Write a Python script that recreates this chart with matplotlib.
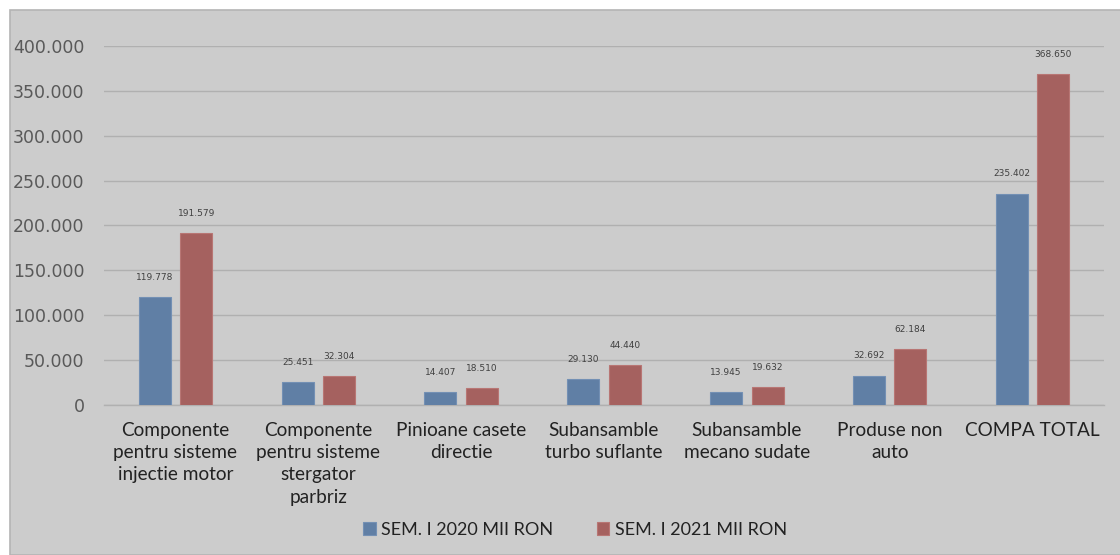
import numpy as np
import matplotlib.pyplot as plt
from matplotlib.patches import Rectangle
from matplotlib.ticker import FuncFormatter

categories = [
    "Componente\npentru sisteme\ninjectie motor",
    "Componente\npentru sisteme\nstergator\nparbriz",
    "Pinioane casete\ndirectie",
    "Subansamble\nturbo suflante",
    "Subansamble\nmecano sudate",
    "Produse non\nauto",
    "COMPA TOTAL",
]
sem_2020 = [119778, 25451, 14407, 29130, 13945, 32692, 235402]
sem_2021 = [191579, 32304, 18510, 44440, 19632, 62184, 368650]
series_names = ["SEM. I 2020 MII RON", "SEM. I 2021 MII RON"]
y_ticks = [0, 50000, 100000, 150000, 200000, 250000, 300000, 350000, 400000]

bg = "#cccccc"
blue = "#607fa5"
red = "#a5615f"

fig = plt.figure(figsize=(11.2, 5.55), dpi=100)
fig.patch.set_facecolor("white")
# chart area frame, kept behind the axes
frame = Rectangle((10 / 1120, 0), 1.0, 1 - 10 / 555, transform=fig.transFigure,
                  facecolor=bg, edgecolor="#b4b4b4", linewidth=1.2, zorder=-10)
fig.add_artist(frame)

ax = fig.add_axes([104 / 1120, 1 - 405 / 555, 1000 / 1120, 359 / 555])
ax.set_facecolor(bg)

x = np.arange(len(categories))
w = 0.224
off = 0.145
b1 = ax.bar(x - off, sem_2020, w, color=blue, edgecolor="#7390b4", linewidth=0.8,
            label=series_names[0], zorder=3)
b2 = ax.bar(x + off, sem_2021, w, color=red, edgecolor="#b87674", linewidth=0.8,
            label=series_names[1], zorder=3)

fmt = lambda v: "{:,.0f}".format(v).replace(",", ".")
for bars, vals in [(b1, sem_2020), (b2, sem_2021)]:
    for rect, v in zip(bars, vals):
        ax.annotate(fmt(v), (rect.get_x() + rect.get_width() / 2, v), xytext=(0, 11),
                    textcoords="offset points", ha="center", va="bottom",
                    fontsize=6.5, color="#404040", family="DejaVu Sans", clip_on=False)

ax.set_xlim(-0.5, len(categories) - 0.5)
ax.set_ylim(0, 400000)
ax.set_yticks(y_ticks)
ax.yaxis.set_major_formatter(FuncFormatter(lambda v, p: fmt(v)))
ax.grid(axis="y", color="#b0b0b0", linewidth=1.0, zorder=0)
for s in ["top", "right", "left"]:
    ax.spines[s].set_visible(False)
ax.spines["bottom"].set_color("#b0b0b0")
ax.spines["bottom"].set_linewidth(1.0)

ax.tick_params(axis="y", length=0, pad=14, labelsize=12.5, labelcolor="#595959")
ax.tick_params(axis="x", length=0, pad=12)
ax.set_xticks(x)
ax.set_xticklabels(categories, fontsize=13.7, color="#222222", family="Lato", linespacing=1.38)
for lbl in ax.get_yticklabels():
    lbl.set_family("DejaVu Sans")

leg = fig.legend(handles=[b1, b2], labels=series_names, loc="center",
                 bbox_to_anchor=(575 / 1120, 1 - 530 / 555), ncol=2, frameon=False,
                 handlelength=0.7, handleheight=0.7, handletextpad=0.3,
                 columnspacing=2.4, prop={"family": "Lato", "size": 13})
for t in leg.get_texts():
    t.set_color("#222222")

fig.savefig("out.png", dpi=100, facecolor=fig.get_facecolor())
